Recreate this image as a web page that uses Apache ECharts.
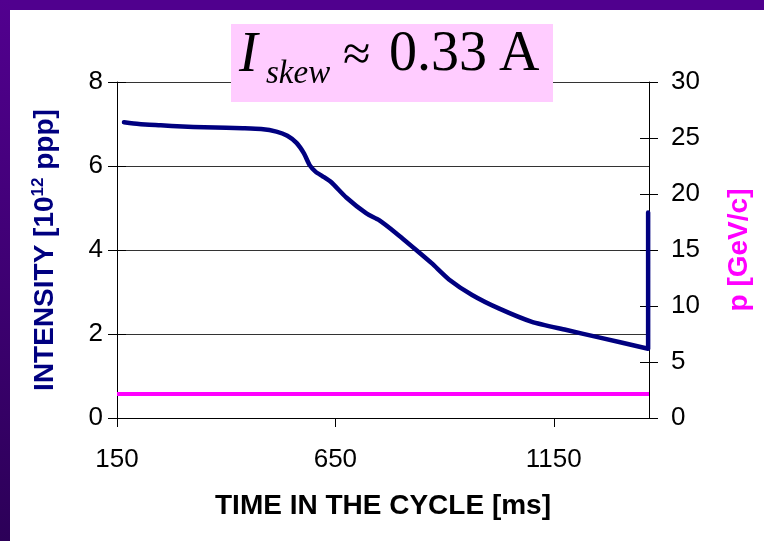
<!DOCTYPE html>
<html>
<head>
<meta charset="utf-8">
<script src="https://cdn.jsdelivr.net/npm/echarts@6/dist/echarts.min.js"></script>
<style>
  html, body { margin: 0; padding: 0; background: #fff; }
  #container { width: 764px; height: 541px; }
</style>
</head>
<body>
<div id="container"></div>
<script>
var dom = document.getElementById('container');
var myChart = echarts.init(dom, null, { renderer: 'canvas' });

// time in the cycle [ms] and beam intensity [10^12 ppp]
const timeMs = [166, 200, 250, 300, 350, 400, 438, 480, 515, 540, 561, 578, 591, 605, 620, 640,
                675, 721, 750, 789, 835, 871, 910, 963, 1024, 1100, 1177, 1253, 1366, 1366];
const intensity = [7.04, 7.00, 6.97, 6.94, 6.92, 6.91, 6.90, 6.88, 6.82, 6.72, 6.55, 6.30, 6.02, 5.86, 5.76, 5.62,
                   5.25, 4.87, 4.71, 4.40, 4.00, 3.68, 3.30, 2.93, 2.61, 2.29, 2.10, 1.92, 1.65, 4.89];

// momentum p [GeV/c]
const momTime = [150, 1368];
const momentum = [2.14, 2.14];

const xTicks = [150, 650, 1150];

const navy = '#000080';
const magenta = '#FF00FF';
const tickFont = 'Arial, "Liberation Sans", sans-serif';

var intensityData = timeMs.map((t, i) => [t, intensity[i]]);
var momentumData = momTime.map((t, i) => [t, momentum[i]]);

var option = {
  animation: false,
  backgroundColor: '#fff',
  grid: { left: 117, right: 115, top: 82, bottom: 123 },
  xAxis: {
    type: 'value',
    min: xTicks[0],
    max: 1368,
    interval: xTicks[1] - xTicks[0],
    name: 'TIME IN THE CYCLE [ms]',
    nameLocation: 'middle',
    nameGap: 74,
    nameTextStyle: { fontFamily: tickFont, fontWeight: 'bold', fontSize: 28, color: '#000' },
    axisLine: { show: true, lineStyle: { color: '#000', width: 1 } },
    axisTick: { show: true, inside: false, length: 9, lineStyle: { color: '#000' } },
    axisLabel: {
      fontFamily: tickFont, fontSize: 26, color: '#000', margin: 29, showMaxLabel: false,
      formatter: v => String(v)
    },
    splitLine: { show: false }
  },
  yAxis: [
    {
      type: 'value', position: 'left', min: 0, max: 8, interval: 2,
      name: '{t|INTENSITY [10}{s|12}{t| ppp]}',
      nameLocation: 'middle',
      nameRotate: 90,
      nameGap: 57,
      nameTextStyle: {
        rich: {
          t: { fontFamily: tickFont, fontWeight: 'bold', fontSize: 28, color: navy, lineHeight: 30 },
          s: { fontFamily: tickFont, fontWeight: 'bold', fontSize: 17, color: navy, verticalAlign: 'top', lineHeight: 30 }
        }
      },
      axisLine: { show: true, lineStyle: { color: '#000', width: 1 } },
      axisTick: { show: true, inside: false, length: 9, lineStyle: { color: '#000' } },
      axisLabel: { fontFamily: tickFont, fontSize: 26, color: '#000', margin: 14 },
      splitLine: { show: true, lineStyle: { color: '#333', width: 1 } }
    },
    {
      type: 'value', position: 'right', min: 0, max: 30, interval: 5,
      name: 'p [GeV/c]',
      nameLocation: 'middle',
      nameRotate: 90,
      nameGap: 76,
      nameTextStyle: { fontFamily: tickFont, fontWeight: 'bold', fontSize: 28, color: magenta },
      axisLine: { show: true, lineStyle: { color: '#000', width: 1 } },
      axisTick: { show: true, inside: false, length: 9, lineStyle: { color: '#000' } },
      axisLabel: { fontFamily: tickFont, fontSize: 26, color: '#000', margin: 22 },
      splitLine: { show: false }
    },
    // inner halves of the crossing tick marks
    {
      type: 'value', position: 'left', min: 0, max: 8, interval: 2,
      axisLine: { show: false },
      axisTick: { show: true, inside: true, length: 9, lineStyle: { color: '#000' } },
      axisLabel: { show: false },
      splitLine: { show: false }
    },
    {
      type: 'value', position: 'right', min: 0, max: 30, interval: 5,
      axisLine: { show: false },
      axisTick: { show: true, inside: true, length: 9, lineStyle: { color: '#000' } },
      axisLabel: { show: false },
      splitLine: { show: false }
    }
  ],
  series: [
    {
      name: 'p',
      type: 'line',
      yAxisIndex: 1,
      data: momentumData,
      showSymbol: false,
      lineStyle: { color: magenta, width: 4 },
      z: 3
    },
    {
      name: 'intensity',
      type: 'line',
      yAxisIndex: 0,
      data: intensityData,
      showSymbol: false,
      smooth: 0.2,
      lineStyle: { color: navy, width: 4.5, cap: 'round', join: 'round' },
      z: 4
    }
  ],
  graphic: [
    // slide frame
    { type: 'rect', left: 0, top: 0, shape: { width: 764, height: 10 }, style: { fill: '#50008E' }, z: 100 },
    {
      type: 'rect', left: 0, top: 0, shape: { width: 10, height: 541 },
      style: {
        fill: new echarts.graphic.LinearGradient(0, 0, 0, 1, [
          { offset: 0, color: '#52008F' },
          { offset: 1, color: '#2C0058' }
        ])
      },
      z: 100
    },
    // title box
    { type: 'rect', left: 231, top: 24, shape: { width: 322, height: 78 }, style: { fill: '#FFCCFF' }, z: 50 },
    {
      type: 'text', left: 239, top: 28, z: 51,
      style: { text: 'I', font: 'italic 56px "Liberation Serif", "Times New Roman", serif', fill: '#000' }
    },
    {
      type: 'text', left: 266, top: 58, z: 51,
      style: { text: 'skew', font: 'italic 33px "Liberation Serif", "Times New Roman", serif', fill: '#000' }
    },
    {
      type: 'text', left: 343, top: 32, z: 51,
      style: { text: '\u2248', font: '50px "Liberation Serif", "Times New Roman", serif', fill: '#000' }
    },
    {
      type: 'text', left: 389, top: 27, z: 51,
      style: { text: '0.33', font: '56px "Liberation Serif", "Times New Roman", serif', fill: '#000' }
    },
    {
      type: 'text', left: 499, top: 27, z: 51,
      style: { text: 'A', font: '56px "Liberation Serif", "Times New Roman", serif', fill: '#000' }
    }
  ]
};

myChart.setOption(option);
window.addEventListener('resize', myChart.resize);
</script>
</body>
</html>
